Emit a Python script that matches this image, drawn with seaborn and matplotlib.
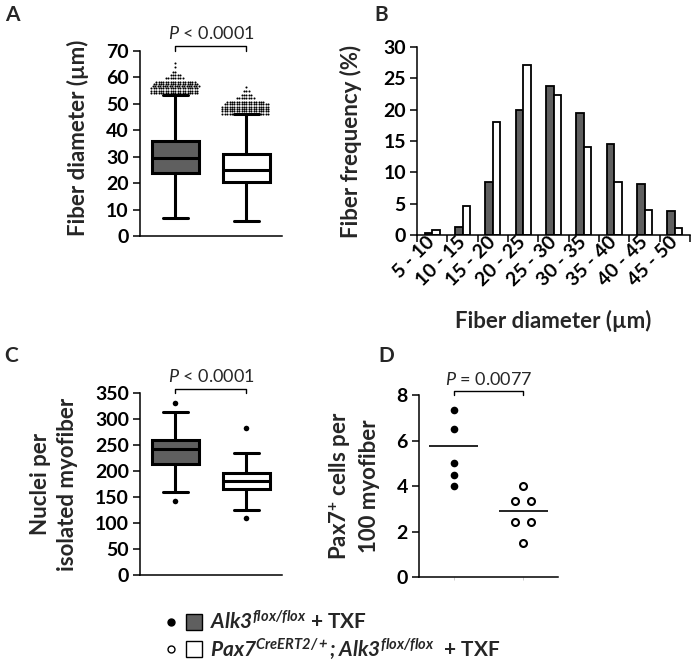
import numpy as np
import pandas as pd
import matplotlib
matplotlib.use("Agg")
import matplotlib.pyplot as plt
from matplotlib.lines import Line2D
from matplotlib.legend_handler import HandlerTuple
import seaborn as sns

sns.set_style("ticks")
plt.rcParams.update({
    "font.family": ["Lato", "DejaVu Sans"],
    "font.weight": "bold",
    "axes.labelweight": "bold",
    "mathtext.fontset": "custom",
    "mathtext.rm": "Lato:normal",
    "mathtext.it": "Lato:italic:normal",
    "mathtext.bf": "Lato:bold",
    "mathtext.bfit": "Lato:italic:bold",
    "axes.linewidth": 1.1,
    "xtick.major.width": 1.1,
    "ytick.major.width": 1.1,
    "xtick.labelsize": 14,
    "ytick.labelsize": 14,
    "xtick.color": "black",
    "ytick.color": "black",
    "axes.edgecolor": "black",
})

DARK = "#5f5f5f"
GROUPS = ["Alk3", "Pax7;Alk3"]

# ── Panel A: fiber diameter box plots (summary stats) ──
A_MED = [29.4, 25.0]
A_Q1 = [24.0, 20.5]
A_Q3 = [36.0, 30.9]
A_LO = [6.7, 5.7]
A_HI = [53.4, 46.0]
A_FLIER_LEVELS_1 = [54.0, 54.9, 55.8, 56.6, 57.5, 58.4, 59.7, 60.9, 62.2, 64.1, 65.6]
A_FLIER_COUNTS_1 = [20, 20, 20, 20, 19, 17, 8, 5, 2, 1, 1]
A_FLIER_LEVELS_2 = [46.2, 47.1, 48.0, 48.9, 49.8, 50.7, 52.1, 53.3, 54.9, 56.5]
A_FLIER_COUNTS_2 = [20, 20, 20, 20, 19, 16, 8, 5, 3, 1]

# ── Panel B: fiber size distribution ──
B_BINS = ["5 - 10", "10 - 15", "15 - 20", "20 - 25", "25 - 30",
          "30 - 35", "35 - 40", "40 - 45", "45 - 50"]
B_CTRL = [0.3, 1.2, 8.4, 20.0, 23.8, 19.5, 14.5, 8.1, 3.8]
B_CKO = [0.8, 4.7, 18.1, 27.2, 22.4, 14.0, 8.4, 4.0, 1.1]

# ── Panel C: nuclei per myofiber ──
C_MED = [243, 180]
C_Q1 = [213, 166]
C_Q3 = [260, 197]
C_LO = [159, 125]
C_HI = [314, 234]
C_FLIERS_1 = [331, 143]
C_FLIERS_2 = [283, 110]

# ── Panel D: Pax7+ cells per 100 myofiber ──
D_CTRL = [7.35, 6.5, 5.0, 4.5, 4.0]
D_CKO = [4.0, 3.35, 3.35, 2.42, 2.42, 1.5]
D_MEANS = [5.75, 2.9]

LABEL_FS = 16
P_FS = 13

fig = plt.figure(figsize=(6.94, 6.67), dpi=100)


def box_panel(ax, med, q1, q3, lo, hi, fl1, fl2, flsize):
    stats = [dict(med=med[i], q1=q1[i], q3=q3[i], whislo=lo[i], whishi=hi[i], fliers=[])
             for i in range(2)]
    bp = ax.bxp(stats, positions=[0, 1], widths=0.67, patch_artist=True,
                showfliers=False, capwidths=0.36,
                boxprops=dict(edgecolor="black", linewidth=2.2),
                medianprops=dict(color="black", linewidth=2.2),
                whiskerprops=dict(color="black", linewidth=2.2),
                capprops=dict(color="black", linewidth=2.2))
    bp["boxes"][0].set_facecolor(DARK)
    bp["boxes"][1].set_facecolor("white")
    fl = pd.DataFrame({"g": [GROUPS[0]] * len(fl1) + [GROUPS[1]] * len(fl2),
                       "v": list(fl1) + list(fl2)})
    sns.swarmplot(data=fl, x="g", y="v", order=GROUPS, color="black",
                  size=flsize, linewidth=0, ax=ax, warn_thresh=1)
    ax.set_xlim(-0.5, 1.5)
    ax.set_xticks([])
    ax.set_xlabel("")
    sns.despine(ax=ax)


def bracket(ax, ylow, ytop, ytext, text):
    ax.plot([0, 0, 1, 1], [ylow, ytop, ytop, ylow], color="black", lw=1.0,
            clip_on=False)
    ax.text(0.5, ytext, text, ha="center", va="center", fontsize=P_FS,
            fontweight="normal", clip_on=False)


# Panel A
axA = fig.add_axes([0.2017, 0.6462, 0.2046, 0.2774])
fl1 = np.repeat(A_FLIER_LEVELS_1, A_FLIER_COUNTS_1)
fl2 = np.repeat(A_FLIER_LEVELS_2, A_FLIER_COUNTS_2)
box_panel(axA, A_MED, A_Q1, A_Q3, A_LO, A_HI, fl1, fl2, 1.65)
axA.set_ylim(0, 70)
axA.set_yticks(range(0, 71, 10))
axA.set_ylabel("Fiber diameter (\u00b5m)", fontsize=LABEL_FS)
axA.yaxis.set_label_coords(-0.36, 0.53)
bracket(axA, 70, 72, 76.5, r"$P$ < 0.0001")

# Panel B
axB = fig.add_axes([0.6009, 0.6477, 0.3934, 0.2819])
dfB = pd.DataFrame({"bin": B_BINS * 2,
                    "freq": B_CTRL + B_CKO,
                    "grp": [GROUPS[0]] * len(B_BINS) + [GROUPS[1]] * len(B_BINS)})
sns.barplot(data=dfB, x="bin", y="freq", hue="grp", order=B_BINS,
            hue_order=GROUPS, palette=[DARK, "white"], edgecolor="black",
            linewidth=1.3, width=0.5, gap=0, legend=False, ax=axB)
axB.set_xlim(-0.5, len(B_BINS) - 0.5)
axB.set_ylim(0, 30)
axB.set_yticks(range(0, 31, 5))
axB.set_xticks(np.arange(-0.5, len(B_BINS), 1.0), minor=True)
axB.tick_params(axis="x", which="minor", length=5, width=1.1, direction="out")
axB.tick_params(axis="x", which="major", length=0, pad=3)
axB.set_xticks(range(len(B_BINS)))
axB.set_xticklabels(B_BINS, rotation=45, ha="right", va="center",
                    rotation_mode="anchor")
axB.set_ylabel("Fiber frequency (%)", fontsize=LABEL_FS)
axB.yaxis.set_label_coords(-0.2, 0.5)
axB.set_xlabel("Fiber diameter (\u00b5m)", fontsize=LABEL_FS)
axB.xaxis.set_label_coords(0.50, -0.40)
sns.despine(ax=axB)

# Panel C
axC = fig.add_axes([0.2017, 0.1379, 0.2046, 0.2729])
box_panel(axC, C_MED, C_Q1, C_Q3, C_LO, C_HI, C_FLIERS_1, C_FLIERS_2, 4)
axC.set_ylim(0, 350)
axC.set_yticks(range(0, 351, 50))
axC.set_ylabel("Nuclei per\nisolated myofiber", fontsize=LABEL_FS, linespacing=1.35)
axC.yaxis.set_label_coords(-0.44, 0.5)
bracket(axC, 350, 358, 382, r"$P$ < 0.0001")

# Panel D
axD = fig.add_axes([0.6037, 0.1349, 0.2003, 0.2729])
dfD = pd.DataFrame({"g": [GROUPS[0]] * len(D_CTRL) + [GROUPS[1]] * len(D_CKO),
                    "v": D_CTRL + D_CKO})
sns.swarmplot(data=dfD[dfD.g == GROUPS[0]], x="g", y="v", order=GROUPS,
              color="black", size=5.5, linewidth=0, ax=axD)
sns.swarmplot(data=dfD[dfD.g == GROUPS[1]], x="g", y="v", order=GROUPS,
              color="white", edgecolor="black", size=5, linewidth=1.5, ax=axD)
axD.hlines(D_MEANS, [p - 0.35 for p in range(2)], [p + 0.35 for p in range(2)],
           color="black", lw=1.2)
axD.set_xlim(-0.5, 1.5)
axD.set_ylim(0, 8)
axD.set_yticks(range(0, 9, 2))
axD.set_xticks([0, 1])
axD.set_xticklabels([])
axD.tick_params(axis="x", length=2, width=0.5, color="#bbbbbb")
axD.set_xlabel("")
axD.set_ylabel("Pax7$^{\\mathbf{+}}$ cells per\n100 myofiber", fontsize=LABEL_FS,
               linespacing=1.35)
axD.yaxis.set_label_coords(-0.28, 0.5)
bracket(axD, 8, 8.19, 8.66, r"$P$ = 0.0077")
sns.despine(ax=axD)

for ax in (axA, axB, axC, axD):
    ax.tick_params(axis="y", length=5, width=1.1, direction="out", pad=3)

# let seaborn lay out the swarms once, then freeze them and restyle
fig.canvas.draw()
for coll in axA.collections:
    if "draw" in coll.__dict__:
        del coll.draw
        coll.set_sizes([2.2])
for coll in axD.collections:
    if "draw" in coll.__dict__:
        del coll.draw
        off = coll.get_offsets().copy()
        centre = np.round(np.median(off[:, 0]))
        ys = np.round(off[:, 1], 3)
        for yv in np.unique(ys):
            idx = np.where(ys == yv)[0]
            if len(idx) > 1:
                dx = off[idx, 0] - off[idx, 0].mean()
                off[idx, 0] = centre + dx * 1.7
            else:
                off[idx, 0] = centre
        coll.set_offsets(off)

# panel letters
for letter, (x, y) in {"A": (12, 15), "B": (381, 15), "C": (11, 356), "D": (386, 356)}.items():
    fig.text(x / 694, 1 - y / 667, letter, fontsize=15, ha="center", va="center")

# legend
h1 = (Line2D([], [], ls="", marker="o", color="black", markersize=5),
      Line2D([], [], ls="", marker="s", markerfacecolor=DARK,
             markeredgecolor="black", markersize=12, markeredgewidth=1))
h2 = (Line2D([], [], ls="", marker="o", markerfacecolor="white",
             markeredgecolor="black", markersize=5, markeredgewidth=1),
      Line2D([], [], ls="", marker="s", markerfacecolor="white",
             markeredgecolor="black", markersize=12, markeredgewidth=1))
labels = [r"$\mathbfit{Alk3}^{\mathbfit{flox/flox}}$ + TXF",
          r"$\mathbfit{Pax7}^{\mathbfit{CreERT2/+}}\mathbfit{;Alk3}^{\mathbfit{flox/flox}}$  + TXF"]
fig.legend([h1, h2], labels, handler_map={tuple: HandlerTuple(ndivide=None, pad=0.2)},
           loc="center left", bbox_to_anchor=(162 / 694, 1 - 636 / 667),
           frameon=False, handlelength=2.0, handletextpad=0.3, labelspacing=0.15,
           prop={"weight": "bold", "size": 15}, borderpad=0, borderaxespad=0)

fig.savefig("out.png", dpi=100)
